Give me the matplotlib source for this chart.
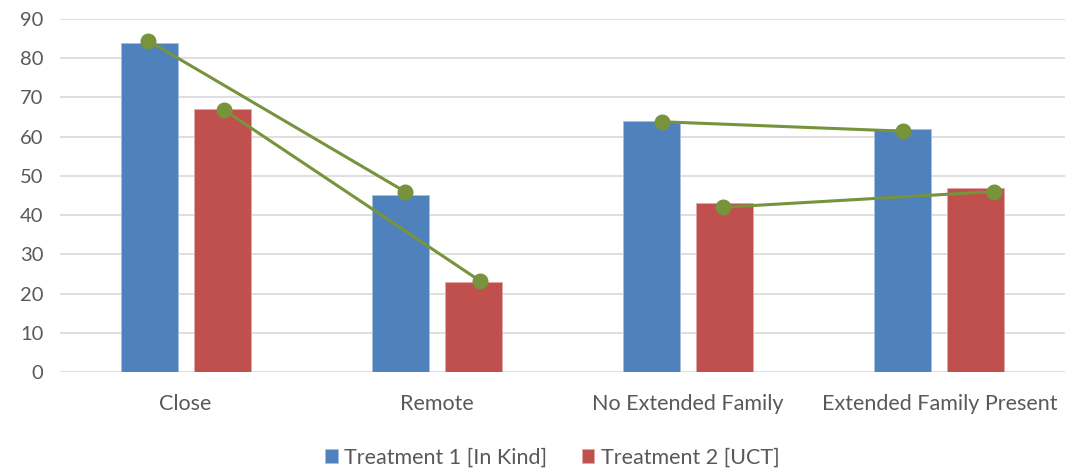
import matplotlib.pyplot as plt
import numpy as np

categories = ['Close', 'Remote', 'No Extended Family', 'Extended Family Present']
treatment1 = [84, 45, 64, 62]
treatment2 = [67, 23, 43, 47]
# green marker series (x as category position, y value)
line_x = [[-0.15, 0.873], [0.153, 1.17], [1.896, 2.855], [2.139, 3.217]]
line_y = [[84.5, 46], [66.8, 23.3], [63.8, 61.4], [42, 46]]

plt.rcParams['font.family'] = ['Lato', 'DejaVu Sans']

fig = plt.figure(figsize=(10.7, 4.69), dpi=100)
ax = fig.add_axes([60/1070, 1 - 372/469, 1005/1070, 353/469])

x = np.arange(len(categories))
w = 0.227
off = 0.145
ax.bar(x - off, treatment1, w, color='#4F81BD', edgecolor='#A7C0DE', linewidth=0.6,
       label='Treatment 1 [In Kind]', zorder=2)
ax.bar(x + off, treatment2, w, color='#C0504D', edgecolor='#E0A8A6', linewidth=0.6,
       label='Treatment 2 [UCT]', zorder=2)

for lx, ly in zip(line_x, line_y):
    ax.plot(lx, ly, color='#77933C', lw=2.2, marker='o', ms=10.5, zorder=3)

ax.set_xlim(-0.5, 3.5)
ax.set_ylim(0, 90)
ax.set_yticks(range(0, 91, 10))
ax.set_xticks(x)
ax.set_xticklabels(categories)
ax.grid(axis='y', color='#D9D9D9', lw=1.2, zorder=0)
for s in ['top', 'right', 'left', 'bottom']:
    ax.spines[s].set_visible(False)
ax.tick_params(axis='y', length=0, labelsize=14.5, colors='#595959', pad=12)
ax.tick_params(axis='x', length=0, labelsize=15.5, colors='#595959', pad=16)

fig.legend(loc='lower center', bbox_to_anchor=(0.516, -0.038), ncol=2, frameon=False,
           fontsize=15.5, labelcolor='#595959', handlelength=0.6, handleheight=0.6,
           handletextpad=0.3, columnspacing=1.6)

plt.savefig('out.png', dpi=100)
